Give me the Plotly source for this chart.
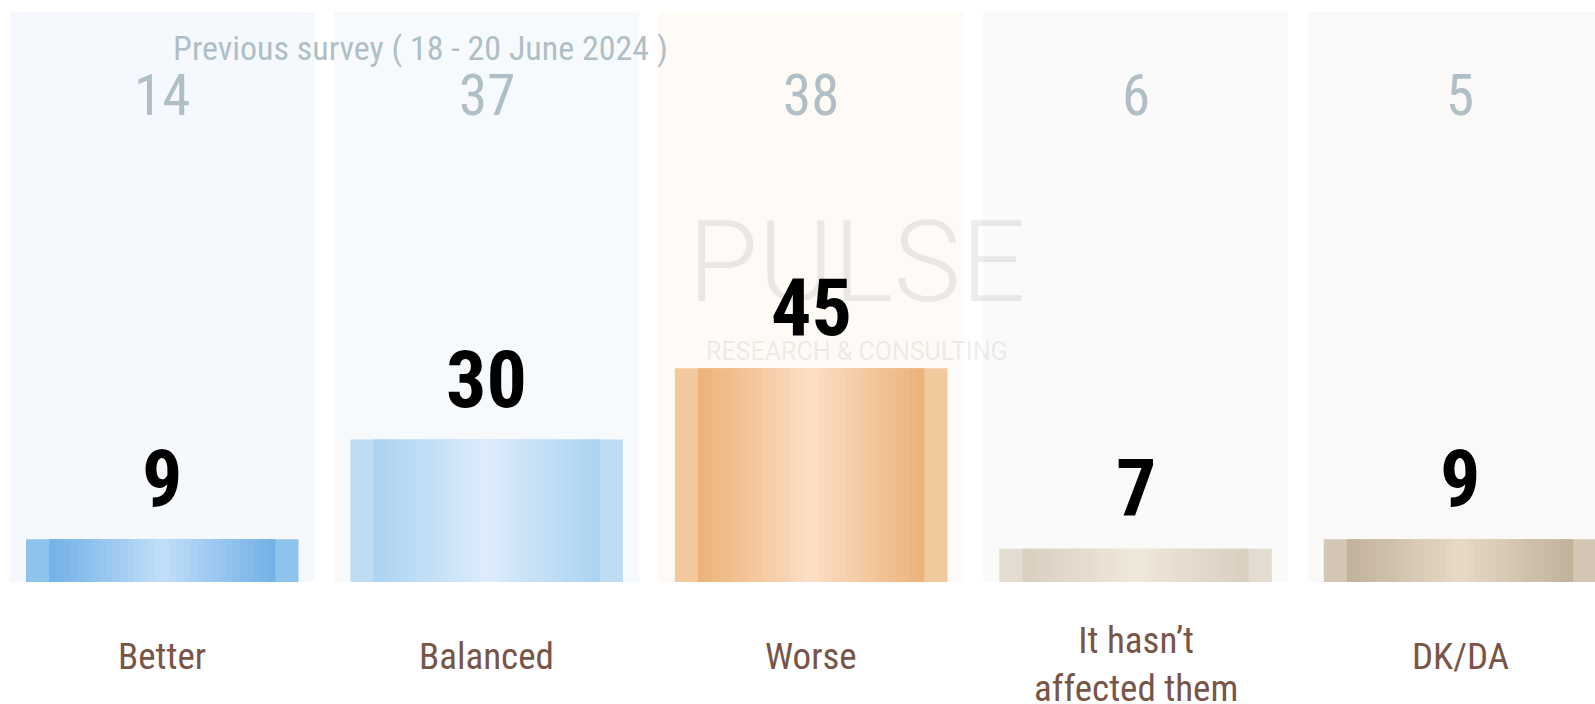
import plotly.graph_objects as go

# ---------------- data ----------------
categories = ["Better", "Balanced", "Worse", "It hasn’t<br>affected them", "DK/DA"]
current_values = [9, 30, 45, 7, 9]
previous_values = [14, 37, 38, 6, 5]
title_text = "Previous survey ( 18 - 20 June 2024 )"

# ---------------- styles ----------------
panel_colors = ["#f5f9fd", "#f6fafd", "#fefaf5", "#fafafa", "#faf9f8"]
edge_colors = ["#8ec3ec", "#bedcf4", "#f1c99c", "#e3dcd1", "#d3c6b5"]
dark_colors = ["#72b1e6", "#acd3f1", "#ecb279", "#d9cfbf", "#c2b29c"]
light_colors = ["#c5e0fa", "#deedfc", "#fde0c8", "#f1e9dd", "#e8dbc7"]

FONT = "Roboto Condensed, Roboto, Arial"
BAR_W = 0.84
PANEL_HALF = 0.47
EDGE_FR = 0.085
N_STRIPS = 32


def hex2rgb(h):
    h = h.lstrip("#")
    return [int(h[i:i + 2], 16) for i in (0, 2, 4)]


def mix(c1, c2, t):
    a, b = hex2rgb(c1), hex2rgb(c2)
    return "rgb(%d,%d,%d)" % tuple(round(a[i] + (b[i] - a[i]) * t) for i in range(3))


fig = go.Figure()

# outer flat edge part of each bar
fig.add_trace(go.Bar(
    x=categories, y=current_values, width=BAR_W,
    marker=dict(color=edge_colors, line=dict(width=0)),
    hoverinfo="skip", showlegend=False,
))

# inner gradient made of narrow strips
inner_w = BAR_W * (1 - 2 * EDGE_FR)
step = inner_w / N_STRIPS
for k in range(N_STRIPS):
    t = (k + 0.5) / N_STRIPS
    d = abs(t - 0.5) * 2  # 0 at centre, 1 at inner edges
    cols = [mix(light_colors[i], dark_colors[i], d ** 0.9) for i in range(len(categories))]
    w = step * 1.15 if k < N_STRIPS - 1 else step
    fig.add_trace(go.Bar(
        x=categories, y=current_values, width=w, offset=-inner_w / 2 + k * step,
        marker=dict(color=cols, line=dict(width=0)),
        hoverinfo="skip", showlegend=False,
    ))

# background panels
shapes = []
for i, c in enumerate(categories):
    shapes.append(dict(type="rect", xref="x", yref="y domain",
                       x0=i - PANEL_HALF, x1=i + PANEL_HALF, y0=0, y1=1,
                       fillcolor=panel_colors[i], line=dict(width=0), layer="below"))

annotations = []
# watermark
annotations.append(dict(text="PULSE", xref="paper", yref="paper", x=0.537, y=0.561,
                        showarrow=False, font=dict(family="Roboto", size=114, color="rgba(120,120,120,0.14)", weight=300)))
annotations.append(dict(text="RESEARCH & CONSULTING", xref="paper", yref="paper", x=0.537, y=0.405,
                        showarrow=False, font=dict(family="Roboto", size=25, color="rgba(120,120,120,0.13)")))

for i, c in enumerate(categories):
    # current value labels
    annotations.append(dict(text=str(current_values[i]), x=c, y=current_values[i], xref="x", yref="y",
                            yanchor="bottom", yshift=11, showarrow=False,
                            font=dict(family=FONT, size=80, color="#000000", weight="bold")))
    # previous survey values
    annotations.append(dict(text=str(previous_values[i]), x=c, y=0.854, xref="x", yref="paper",
                            yanchor="middle", showarrow=False,
                            font=dict(family=FONT, size=57, color="#b0bec5")))
    # category labels
    nlines = c.count("<br>") + 1
    annotations.append(dict(text=c, x=c, y=-0.13, xref="x", yref="paper",
                            yanchor="middle", yshift=-8 * (nlines - 1), showarrow=False,
                            font=dict(family=FONT, size=37, color="#795548")))

fig.update_layout(
    width=1595, height=704,
    margin=dict(l=0, r=0, t=12, b=122),
    barmode="overlay",
    paper_bgcolor="#ffffff", plot_bgcolor="#ffffff",
    shapes=shapes, annotations=annotations,
    title=dict(text=title_text, xref="container", yref="container", x=0.1085, y=0.932,
               xanchor="left", yanchor="middle",
               font=dict(family=FONT, size=34, color="#b0bec5")),
    xaxis=dict(type="category", range=[-0.5, 4.416], showticklabels=False, showgrid=False,
               zeroline=False, showline=False, fixedrange=True),
    yaxis=dict(range=[0, 120], visible=False, fixedrange=True),
    showlegend=False,
)

fig.write_html("out.html", config={"displayModeBar": False},
               post_script="document.body.style.margin='0px';")
